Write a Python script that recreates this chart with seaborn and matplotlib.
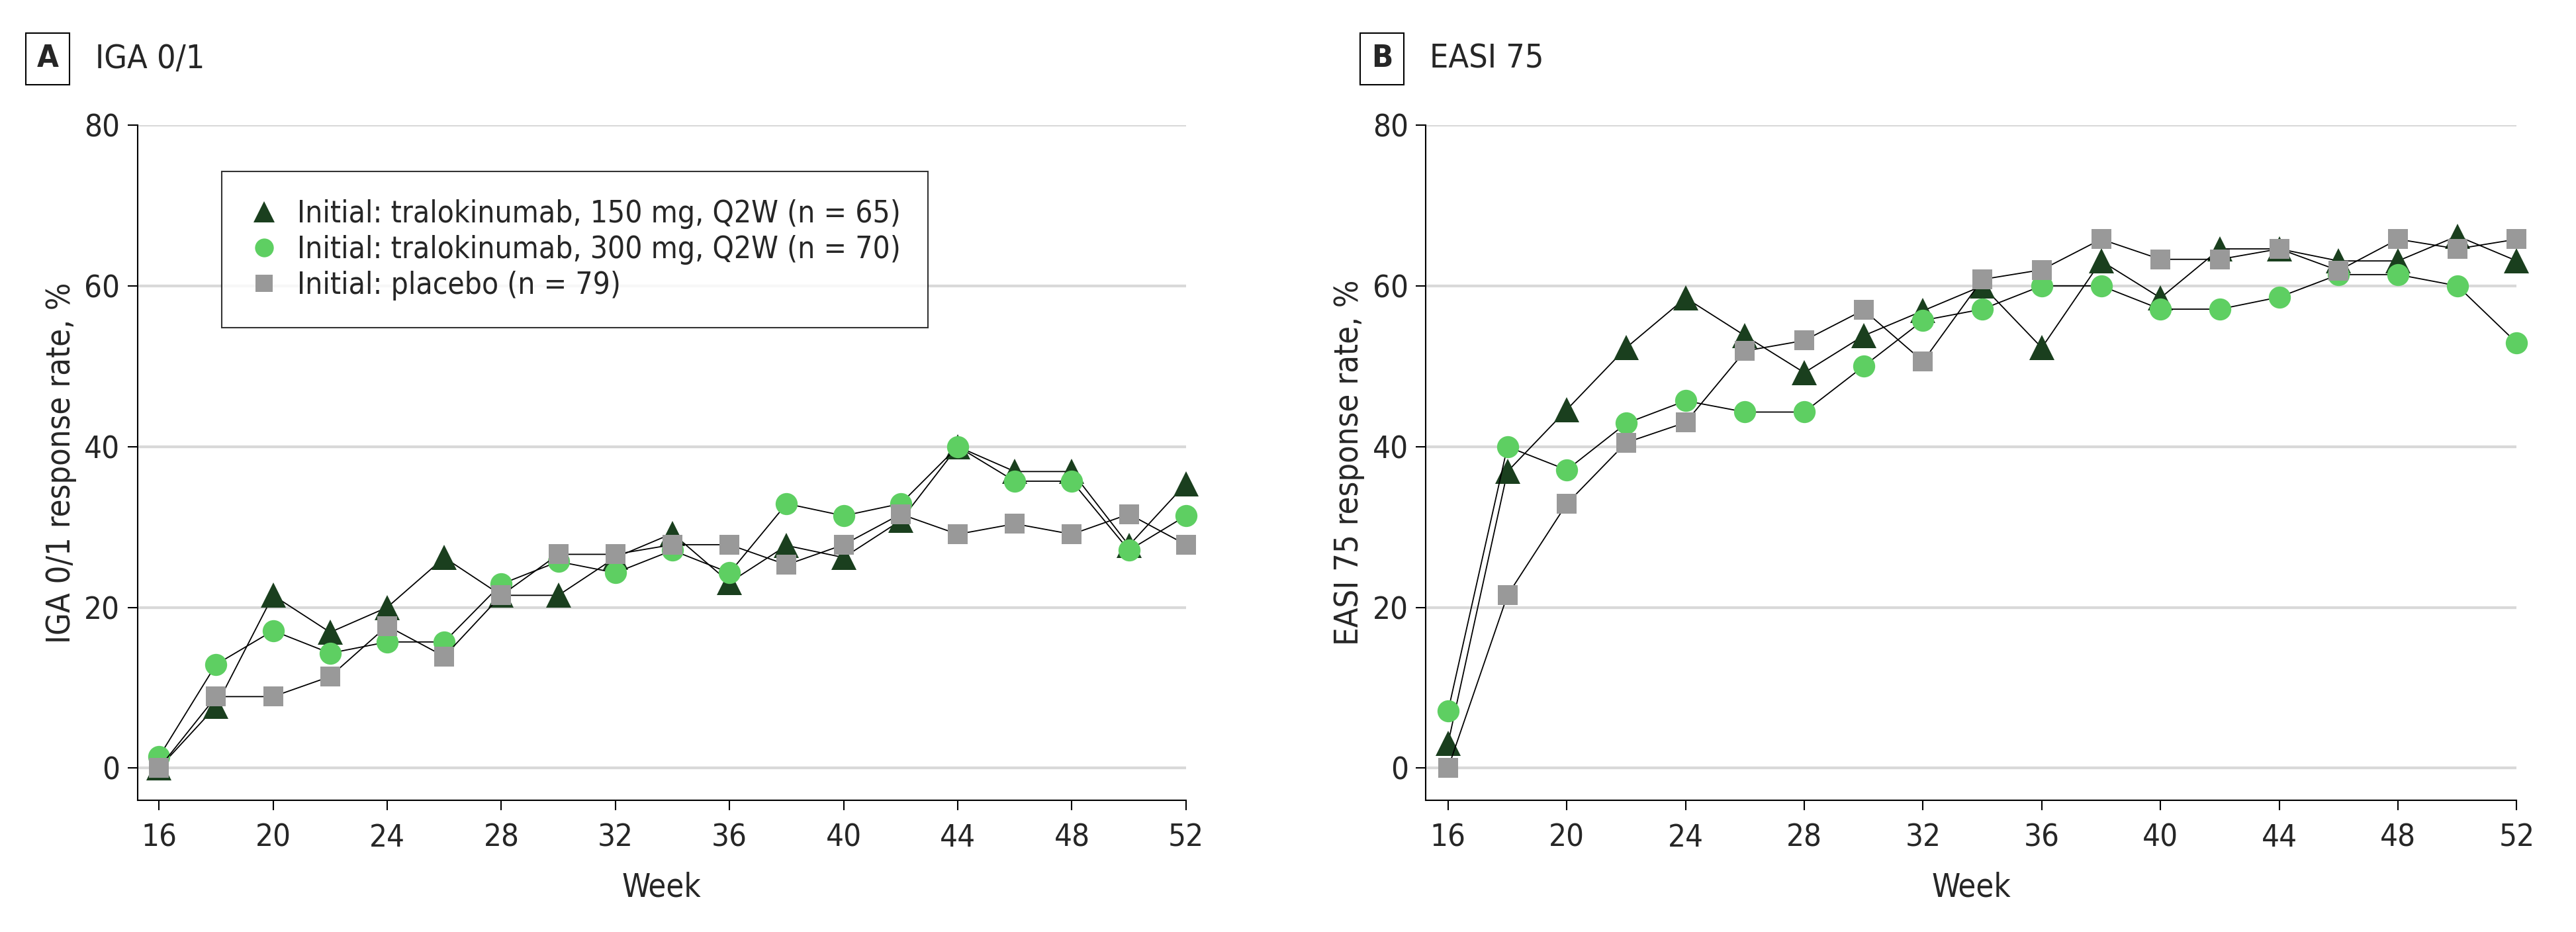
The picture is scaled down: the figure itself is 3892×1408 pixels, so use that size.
import matplotlib
matplotlib.use("Agg")
import matplotlib.pyplot as plt
from matplotlib.lines import Line2D
import seaborn as sns

sns.set_style("white")
plt.rcParams["font.family"] = ["DejaVu Sans"]
plt.rcParams["font.stretch"] = "condensed"

weeks = [16, 18, 20, 22, 24, 26, 28, 30, 32, 34, 36, 38, 40, 42, 44, 46, 48, 50, 52]

iga_150 = [0, 7.7, 21.5, 16.9, 20.0, 26.2, 21.5, 21.5, 26.2, 29.2, 23.1, 27.7, 26.2, 30.8, 40.0, 36.9, 36.9, 27.7, 35.4]
iga_300 = [1.4, 12.9, 17.1, 14.3, 15.7, 15.7, 22.9, 25.7, 24.3, 27.1, 24.3, 32.9, 31.4, 32.9, 40.0, 35.7, 35.7, 27.1, 31.4]
iga_pbo = [0, 8.9, 8.9, 11.4, 17.7, 13.9, 21.5, 26.6, 26.6, 27.8, 27.8, 25.3, 27.8, 31.6, 29.1, 30.4, 29.1, 31.6, 27.8]

easi_150 = [3.1, 36.9, 44.6, 52.3, 58.5, 53.8, 49.2, 53.8, 56.9, 60.0, 52.3, 63.1, 58.5, 64.6, 64.6, 63.1, 63.1, 66.2, 63.1]
easi_300 = [7.1, 40.0, 37.1, 42.9, 45.7, 44.3, 44.3, 50.0, 55.7, 57.1, 60.0, 60.0, 57.1, 57.1, 58.6, 61.4, 61.4, 60.0, 52.9]
easi_pbo = [0, 21.5, 32.9, 40.5, 43.0, 51.9, 53.2, 57.0, 50.6, 60.8, 62.0, 65.8, 63.3, 63.3, 64.6, 61.9, 65.8, 64.6, 65.8]

labels = ["Initial: tralokinumab, 150 mg, Q2W (n = 65)",
          "Initial: tralokinumab, 300 mg, Q2W (n = 70)",
          "Initial: placebo (n = 79)"]
markers = ["^", "o", "s"]
colors = ["#1a3f1e", "#5ecf62", "#999999"]
msizes = [27, 24, 22]

FS = 34

fig = plt.figure(figsize=(38.92, 14.08), dpi=100)
axA = fig.add_axes([0.0534, 0.1413, 0.4070, 0.7245])
axB = fig.add_axes([0.5535, 0.1413, 0.4235, 0.7245])


def draw_panel(ax, series, ylabel):
    for vals, mk, c, ms in zip(series, markers, colors, msizes):
        sns.lineplot(x=weeks, y=vals, ax=ax, color="black", linewidth=1.3,
                     marker=mk, markersize=ms, markerfacecolor=c,
                     markeredgecolor=c, markeredgewidth=0, clip_on=False)
    ax.set_xlim(15.25, 52)
    ax.set_ylim(-4, 80)
    ax.set_xticks(range(16, 53, 4))
    ax.set_yticks([0, 20, 40, 60, 80])
    for y in [0, 20, 40, 60, 80]:
        ax.plot([15.25, 52], [y, y], color="#d9d9d9", linewidth=3, zorder=0.5)
    sns.despine(ax=ax)
    for s in ["left", "bottom"]:
        ax.spines[s].set_linewidth(1.5)
        ax.spines[s].set_color("black")
    ax.tick_params(axis="both", which="major", length=11, width=1.5, color="black",
                   labelsize=FS, direction="out", bottom=True, left=True)
    ax.tick_params(axis="x", pad=14)
    ax.tick_params(axis="y", pad=8)
    ax.set_xlabel("Week", fontsize=FS + 1, labelpad=20)
    ax.set_ylabel(ylabel, fontsize=FS + 1, labelpad=8)


draw_panel(axA, [iga_150, iga_300, iga_pbo], "IGA 0/1 response rate, %")
draw_panel(axB, [easi_150, easi_300, easi_pbo], "EASI 75 response rate, %")

handles = [Line2D([], [], linestyle="none", marker=mk, markersize=ms * 0.85,
                  markerfacecolor=c, markeredgewidth=0)
           for mk, c, ms in zip(markers, colors, msizes)]
leg = axA.legend(handles, labels, loc="upper left", bbox_to_anchor=(0.080, 0.931),
                 borderaxespad=0, fontsize=FS - 1, frameon=True, fancybox=False,
                 handlelength=1.0, handletextpad=0.6, labelspacing=0.2,
                 borderpad=0.9)
leg.get_frame().set_edgecolor("black")
leg.get_frame().set_linewidth(1.5)

for x0, letter, title in [(0.0186, "A", "IGA 0/1"), (0.5365, "B", "EASI 75")]:
    fig.text(x0, 0.937, letter, fontsize=FS, fontweight="bold", ha="center", va="center",
             bbox=dict(boxstyle="square,pad=0.35", facecolor="white", edgecolor="black",
                       linewidth=1.5))
    fig.text(x0 + 0.0185, 0.937, title, fontsize=FS + 2, ha="left", va="center")

fig.savefig("out.png", dpi=100)
